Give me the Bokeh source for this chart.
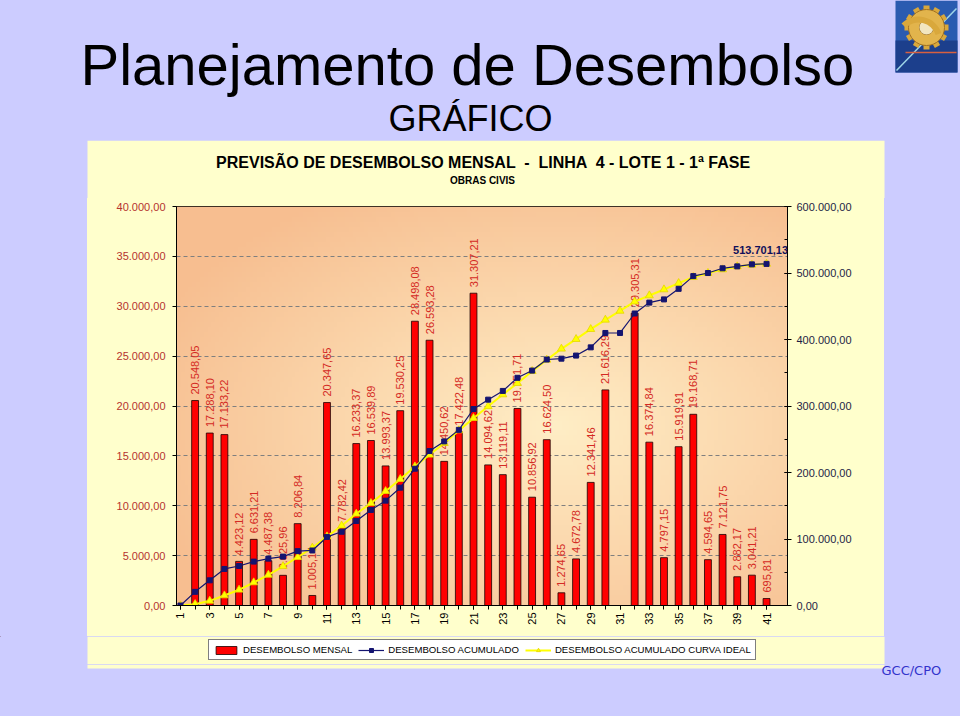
import math
import numpy as np
from bokeh.plotting import figure
from bokeh.models import (Range1d, LinearAxis, FixedTicker, Legend, LegendItem,
                          ColumnDataSource, Label)
from bokeh.layouts import row, column
from bokeh.embed import file_html
from bokeh.resources import INLINE
from bokeh.core.properties import value

# ---------------- data ----------------
meses = list(range(1, 42))
mensal = [0, 20548.05, 17288.10, 17133.22, 4423.12, 6631.21, 4487.38, 3025.96, 8206.84, 1005.14,
          20347.65, 7782.42, 16233.37, 16539.89, 13993.37, 19530.25, 28498.08, 26593.28, 14450.62, 17422.48,
          31307.21, 14094.62, 13119.11, 19751.71, 10856.92, 16624.50, 1274.65, 4672.78, 12341.46, 21616.29,
          0, 29305.31, 16374.84, 4797.15, 15919.91, 19168.71, 4594.65, 7121.75, 2882.17, 3041.21, 695.81]
acumulado = [0, 20548.05, 37836.15, 54969.37, 59392.49, 66023.70, 70511.08, 73537.04, 81743.88, 82749.02,
             103096.67, 110879.09, 127112.46, 143652.35, 157645.72, 177175.97, 205674.05, 232267.33, 246717.95, 264140.43,
             295447.64, 309542.26, 322661.37, 342413.08, 353270.00, 369894.50, 371169.15, 375841.93, 388183.39, 409799.68,
             409799.68, 439104.99, 455479.83, 460276.98, 476196.89, 495365.60, 499960.25, 507082.00, 509964.17, 513005.38,
             513701.13]
ideal = [0, 2000, 7000, 15000, 23600, 34600, 46000, 59000, 72600, 86800,
         103800, 120000, 137900, 153800, 171900, 190000, 209000, 226600, 244100, 263200,
         281700, 299500, 317300, 334300, 352400, 369400, 386000, 400500, 415500, 429600,
         443000, 457000, 466200, 475200, 484700, 493700, 499800, 505300, 509800, 512300,
         513700]
left_ticks = [0, 5000, 10000, 15000, 20000, 25000, 30000, 35000, 40000]
right_ticks = [0, 100000, 200000, 300000, 400000, 500000, 600000]
x_label_ticks = list(range(1, 42, 2))

TITLE = "Planejamento de Desembolso"
SUBTITLE = "GRÁFICO"
CHART_TITLE = "PREVISÃO DE DESEMBOLSO MENSAL \u00a0-\u00a0 LINHA \u00a04 - LOTE 1 - 1ª FASE"
CHART_SUB = "OBRAS CIVIS"
LEGEND_LABELS = ["DESEMBOLSO MENSAL", "DESEMBOLSO ACUMULADO", "DESEMBOLSO ACUMULADO CURVA IDEAL"]
FOOTER = "GCC/CPO"


def br(v):
    s = f"{v:,.2f}"
    return s.replace(",", "#").replace(".", ",").replace("#", ".")


FONT = "Liberation Sans"
LAV = "#CCCCFF"
PANEL = "#FFFFCC"
RED = "#FF0000"
NAVY = "#141470"
YEL = "#FFFF00"

# ---------------- main chart ----------------
p = figure(width=797, height=438, x_range=Range1d(0.73, 42.43), y_range=Range1d(0, 40000),
           output_backend="svg", toolbar_location=None, title=None,
           min_border_left=89, min_border_right=97, min_border_top=8, min_border_bottom=31,
           border_fill_color=PANEL, background_fill_color="#F8C492",
           outline_line_color="black", outline_line_width=1)
p.extra_y_ranges = {"acc": Range1d(0, 600000)}

# gradient background of plot area
H, W = 80, 160
u = np.linspace(0, 1, W)[None, :]
v = np.linspace(0, 1, H)[:, None]
t = np.clip(np.sqrt(((u - 0.62) / 0.72) ** 2 + ((v - 0.45) / 0.68) ** 2), 0, 1)
Lc = np.array([255, 238, 198])
Pc = np.array([247, 190, 144])
img = np.empty((H, W), dtype=np.uint32)
view = img.view(dtype=np.uint8).reshape((H, W, 4))
for k in range(3):
    view[:, :, k] = (Lc[k] * (1 - t) + Pc[k] * t).astype(np.uint8)
view[:, :, 3] = 255
ir = p.image_rgba(image=[img], x=0.73, y=0, dw=41.7, dh=40000)
ir.level = "image"

# grid
p.xgrid.visible = False
p.ygrid.ticker = FixedTicker(ticks=left_ticks)
p.ygrid.grid_line_color = "#7F7F7F"
p.ygrid.grid_line_dash = "4 3"
p.ygrid.grid_line_width = 1

# axes
ya = p.yaxis[0]
ya.ticker = FixedTicker(ticks=left_ticks)
ya.major_label_overrides = {tk: br(tk) for tk in left_ticks}
ya.major_label_text_color = "#B5332E"
ya.major_label_text_font = FONT
ya.major_label_text_font_size = "11px"
ya.major_tick_out = 4
ya.major_tick_in = 0
ya.minor_tick_line_color = None
ya.major_label_standoff = 7
ya.axis_line_color = "black"

ra = LinearAxis(y_range_name="acc")
ra.ticker = FixedTicker(ticks=right_ticks, minor_ticks=list(range(0, 600001, 50000)))
ra.major_label_overrides = {tk: br(tk) for tk in right_ticks}
ra.major_label_text_color = "#1E1E46"
ra.major_label_text_font = FONT
ra.major_label_text_font_size = "11px"
ra.major_tick_out = 4
ra.major_tick_in = 3
ra.minor_tick_in = 3
ra.minor_tick_out = 0
ra.major_label_standoff = 5
p.add_layout(ra, "right")

xa = p.xaxis[0]
xa.ticker = FixedTicker(ticks=x_label_ticks, minor_ticks=meses)
xa.major_label_orientation = math.pi / 2
xa.major_label_text_font = FONT
xa.major_label_text_font_size = "11px"
xa.major_label_text_color = "black"
xa.major_tick_out = 4
xa.major_tick_in = 0
xa.minor_tick_out = 4
xa.minor_tick_in = 0
xa.major_label_standoff = 3

# bars
src = ColumnDataSource(dict(m=meses, v=mensal))
bar_style = dict(fill_color=RED, line_color="#1A0000", line_width=0.8)
p.vbar(x="m", top="v", width=0.47, source=src, **bar_style)

# bar labels
lab_m = [m for m, val in zip(meses, mensal) if val > 0]
lab_v = [val for val in mensal if val > 0]
lab_t = [br(val) for val in mensal if val > 0]
p.text(x=lab_m, y=lab_v, text=lab_t, angle=math.pi / 2, text_align="left",
       text_baseline="middle", y_offset=-6, text_font=value(FONT), text_font_size="11px",
       text_color="#D42A24")

# lines
yline = dict(line_color=YEL, line_width=2)
ymark = dict(marker="triangle", size=8, fill_color=YEL, line_color="#E6D600", line_width=0.8)
bline = dict(line_color=NAVY, line_width=1.2)
bmark = dict(marker="square", size=5, fill_color=NAVY, line_color=NAVY)
p.line(meses, ideal, y_range_name="acc", **yline)
p.scatter(meses, ideal, y_range_name="acc", **ymark)
p.line(meses, acumulado, y_range_name="acc", **bline)
p.scatter(meses, acumulado, y_range_name="acc", **bmark)

p.add_layout(Label(x=meses[-1], y=acumulado[-1], y_range_name="acc", text=br(acumulado[-1]),
                   text_align="center", text_baseline="bottom", y_offset=10, x_offset=-6,
                   text_font=FONT, text_font_size="11px", text_font_style="bold",
                   text_color="#10105A"))


# ---------------- surrounding page (page pixel coordinates) ----------------
def filler(w, h, xr, yr, bg=LAV):
    f = figure(width=w, height=h, x_range=Range1d(*xr), y_range=Range1d(*yr),
               output_backend="svg", toolbar_location=None, x_axis_type=None, y_axis_type=None,
               min_border=0, border_fill_color=bg, background_fill_color=bg,
               outline_line_color=None, title=None)
    f.grid.visible = False
    return f


# page title
top = filler(960, 140, (0, 960), (140, 0))
top.text(x=[80], y=[64], text=[TITLE], text_font=value(FONT), text_font_size="58px",
         text_baseline="alphabetic", text_color="black")
top.text(x=[470], y=[118], text=[SUBTITLE], text_font=value(FONT), text_font_size="36px",
         text_align="center", text_baseline="alphabetic", text_color="black")
# logo
top.quad(left=[895], right=[957], top=[0], bottom=[72], fill_color="#2A5BB0", line_color=None)
top.quad(left=[895], right=[957], top=[40], bottom=[72], fill_color="#1C3F8C", line_color=None)
top.line(x=[896, 956], y=[70, 8], line_color="#9FD6E8", line_width=1.5)
top.line(x=[905, 956], y=[52, 52], line_color="#D86040", line_width=1.5)
ang = np.linspace(0, 2 * np.pi, 12, endpoint=False)
top.rect(x=list(926 + 19 * np.cos(ang)), y=list(27 + 19 * np.sin(ang)), width=6, height=6,
         angle=list(-ang), fill_color="#D9A83C", line_color=None)
top.annulus(x=[926], y=[27], inner_radius=7, outer_radius=18, fill_color="#E2B44C",
            line_color="#A07020")
top.circle(x=[926], y=[27], radius=7, fill_color="#F2E6C0", line_color=None)
top.annular_wedge(x=[918], y=[40], inner_radius=18, outer_radius=24, start_angle=math.pi * 0.1,
                  end_angle=math.pi * 0.75, fill_color="#D9A83C", line_color=None)

# chart title strip (top of the yellow panel)
tstrip = filler(960, 58, (0, 960), (198, 140))
tstrip.quad(left=[87], right=[884], top=[140], bottom=[198], fill_color=PANEL, line_color=None)
tstrip.text(x=[483], y=[162], text=[CHART_TITLE], text_font=value(FONT), text_font_size="16px",
            text_font_style="bold", text_align="center", text_baseline="middle", text_color="black")
tstrip.text(x=[482], y=[180], text=[CHART_SUB], text_font=value(FONT), text_font_size="10px",
            text_font_style="bold", text_align="center", text_baseline="middle", text_color="black")

left = filler(87, 438, (0, 87), (636, 198))
right = filler(76, 438, (884, 960), (636, 198))

# legend strip
leg = filler(960, 28, (0, 960), (664, 636))
leg.quad(left=[87], right=[884], top=[636], bottom=[664], fill_color=PANEL, line_color=None)
r1 = leg.vbar(x=[-100], top=[-100], width=1, **bar_style)
r2 = leg.line(x=[-100, -90], y=[-100, -100], **bline)
r3 = leg.scatter(x=[-100], y=[-100], **bmark)
r4 = leg.line(x=[-100, -90], y=[-100, -100], **yline)
r5 = leg.scatter(x=[-100], y=[-100], **ymark)
legend = Legend(items=[LegendItem(label=LEGEND_LABELS[0], renderers=[r1]),
                       LegendItem(label=LEGEND_LABELS[1], renderers=[r2, r3]),
                       LegendItem(label=LEGEND_LABELS[2], renderers=[r4, r5])],
                orientation="horizontal", location=(208, 4),
                label_text_font=FONT, label_text_font_size="9.6px", label_text_color="black",
                glyph_width=26, glyph_height=10, label_standoff=4, spacing=6,
                padding=4, margin=0, border_line_color="black", border_line_width=1,
                background_fill_color="white", background_fill_alpha=1.0)
leg.add_layout(legend, "center")

bottom = filler(960, 52, (0, 960), (716, 664))
bottom.quad(left=[87], right=[884], top=[664], bottom=[668], fill_color=PANEL, line_color=None)
bottom.text(x=[881], y=[670], text=[FOOTER], text_font=value("DejaVu Sans"), text_font_size="13px",
            text_baseline="middle", text_color="#3333CC")

mid = row(left, column(p, styles={"background-color": PANEL}), right,
          styles={"background-color": LAV})
layout = column(top, tstrip, mid, leg, bottom, styles={"background-color": LAV})

with open("out.html", "w") as fh:
    fh.write(file_html(layout, INLINE))
